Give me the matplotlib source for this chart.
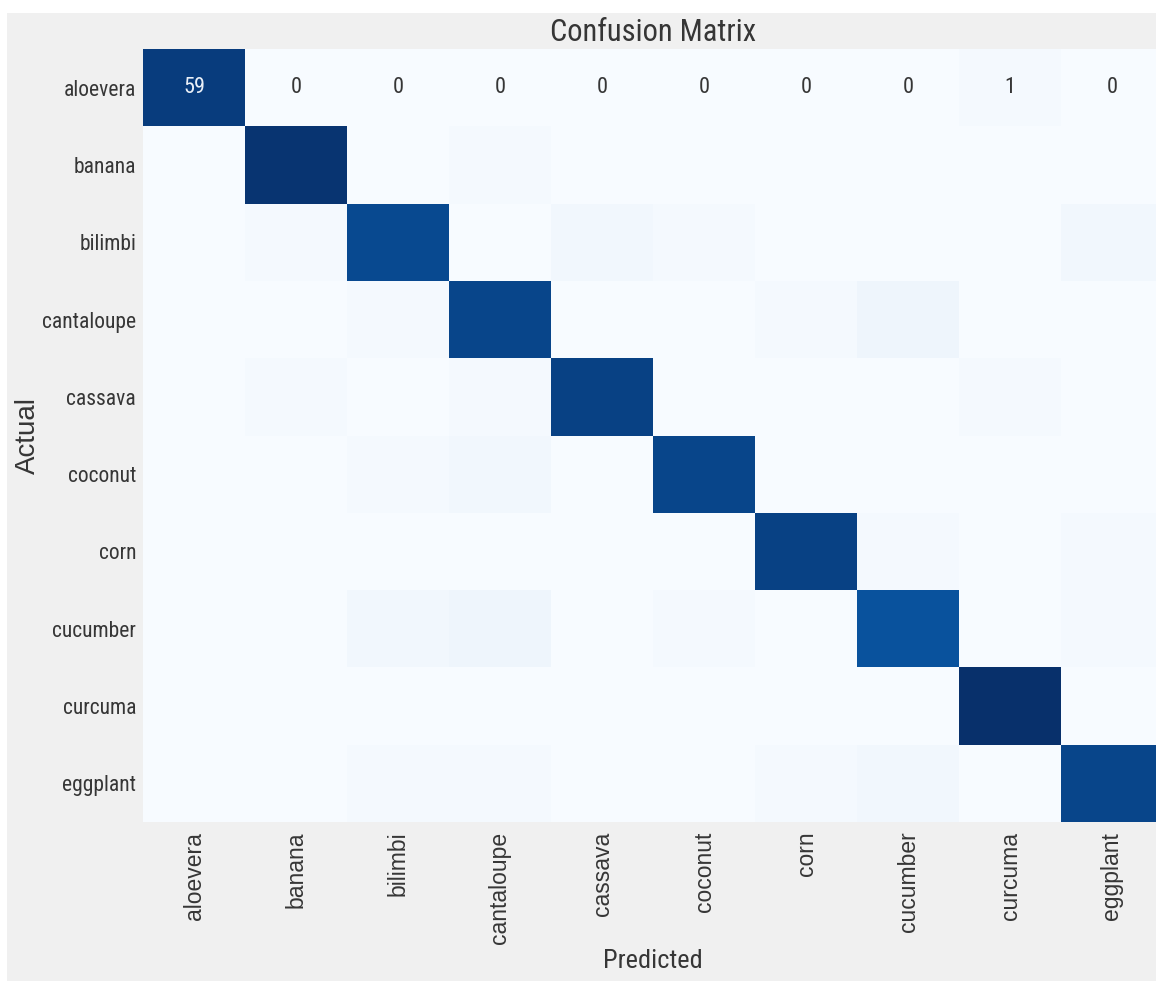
import matplotlib
matplotlib.use('Agg')
import matplotlib.pyplot as plt
from matplotlib.patches import Rectangle
import numpy as np

# class names (rows = actual, columns = predicted)
classes = ['aloevera', 'banana', 'bilimbi', 'cantaloupe', 'cassava',
           'coconut', 'corn', 'cucumber', 'curcuma', 'eggplant']

# confusion matrix counts
row_aloevera   = [59, 0, 0, 0, 0, 0, 0, 0, 1, 0]
row_banana     = [0, 61, 0, 1, 0, 0, 0, 0, 0, 0]
row_bilimbi    = [0, 1, 56, 0, 2, 1, 0, 0, 0, 2]
row_cantaloupe = [0, 0, 1, 57, 0, 0, 1, 3, 0, 0]
row_cassava    = [0, 1, 0, 1, 58, 0, 0, 0, 1, 0]
row_coconut    = [0, 0, 1, 2, 0, 57, 0, 0, 0, 0]
row_corn       = [0, 0, 0, 0, 0, 0, 58, 1, 0, 1]
row_cucumber   = [0, 0, 2, 3, 0, 1, 0, 54, 0, 1]
row_curcuma    = [0, 0, 0, 0, 0, 0, 0, 0, 62, 0]
row_eggplant   = [0, 0, 1, 1, 0, 0, 1, 2, 0, 57]

cm = np.array([row_aloevera, row_banana, row_bilimbi, row_cantaloupe,
               row_cassava, row_coconut, row_corn, row_cucumber,
               row_curcuma, row_eggplant])

narrow = ['Roboto Condensed', 'DejaVu Sans']
wide = ['Liberation Sans', 'DejaVu Sans']
txt = '#363636'
bg = '#f0f0f0'

fig = plt.figure(figsize=(11.56, 9.81), dpi=100, facecolor=bg)
# white screenshot borders
fig.patches.append(Rectangle((0, 1 - 13 / 981), 1, 13 / 981, transform=fig.transFigure,
                             facecolor='white', edgecolor='none', zorder=-1))
fig.patches.append(Rectangle((0, 0), 7 / 1156, 1, transform=fig.transFigure,
                             facecolor='white', edgecolor='none', zorder=-1))

ax = fig.add_axes([143 / 1156, 1 - 822 / 981, 1020 / 1156, 773 / 981])
ax.pcolormesh(cm, cmap='Blues', vmin=0, vmax=cm.max())
ax.set_xlim(0, len(classes))
ax.set_ylim(len(classes), 0)
for s in ax.spines.values():
    s.set_visible(False)

# only the first row carries numbers in the original
cmap = plt.get_cmap('Blues')
for j, v in enumerate(cm[0]):
    r, g, b, _ = cmap(v / cm.max())
    lum = 0.2126 * r + 0.7152 * g + 0.0722 * b
    ax.text(j + 0.5, 0.5, str(v), ha='center', va='center', fontsize=16,
            family=narrow, color='#eaf0f8' if lum < 0.408 else txt)

ticks = np.arange(len(classes)) + 0.5
ax.set_xticks(ticks)
ax.set_yticks(ticks)
ax.set_xticklabels(classes, rotation=90, fontsize=16.5, family=wide, color=txt)
ax.set_yticklabels(classes, fontsize=15.5, family=narrow, color=txt)
ax.tick_params(axis='x', length=0, pad=7)
ax.tick_params(axis='y', length=0, pad=5)

ax.set_title('Confusion Matrix', fontsize=22, family=narrow, color=txt, pad=6)
ax.set_xlabel('Predicted', fontsize=19, family=narrow, color=txt, labelpad=4)
ax.set_ylabel('Actual', fontsize=20, family=wide, color=txt)
ax.yaxis.set_label_coords(-102 / 1020, 0.5)

fig.savefig('out.png', dpi=100, facecolor=bg)
